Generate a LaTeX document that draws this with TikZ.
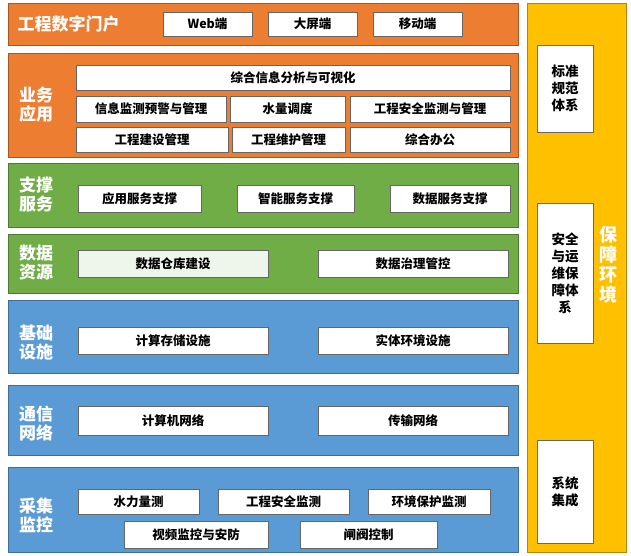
\documentclass[tikz,border=0pt]{standalone}
\usepackage{fontspec}
\setmainfont{Noto Sans CJK SC}
\begin{document}
\begin{tikzpicture}[x=1pt,y=-1pt,
  layer/.style={draw=#1!70!black, fill=#1, line width=1pt, inner sep=0pt},
  wbox/.style={draw=black!60, fill=white, line width=0.6pt, inner sep=0pt, font=\bfseries\fontsize{12.5}{14}\selectfont},
  lbl/.style={text=white, font=\bfseries\fontsize{17}{19}\selectfont, align=left},
  every node/.style={anchor=center}]
  \definecolor{orng}{HTML}{ED7D31}
  \definecolor{grn}{HTML}{70AD47}
  \definecolor{blu}{HTML}{5B9BD5}
  \definecolor{ylw}{HTML}{FFC000}
  \definecolor{lgrn}{HTML}{EEF5EA}
  \useasboundingbox (0,0) rectangle (631,555);
  % box: name, x1, y1, x2, y2, text
  \newcommand\bx[6]{\node[wbox, minimum width={#4-#2}, minimum height={#5-#3}] (#1) at ({(#2+#4)/2},{(#3+#5)/2}) {#6};}
  % layers
  \node[layer=orng, minimum width=510, minimum height=42] (portal) at (263,24) {};
  \node[layer=orng, minimum width=510, minimum height=104] (yewu) at (263,105) {};
  \node[layer=grn, minimum width=510, minimum height=64] (zhicheng) at (263,195) {};
  \node[layer=grn, minimum width=510, minimum height=59] (shuju) at (263,263.5) {};
  \node[layer=blu, minimum width=510, minimum height=73] (jichu) at (263,336.5) {};
  \node[layer=blu, minimum width=510, minimum height=70] (tongxin) at (263,420) {};
  \node[layer=blu, minimum width=510, minimum height=85] (caiji) at (263,509.5) {};
  \node[layer=ylw, minimum width=99, minimum height=549] (baozhang) at (576.5,277.5) {};
  % labels
  \node[lbl, anchor=west] (tportal) at (14,24) {工程数字门户};
  \node[lbl] (tyewu) at (36,105) {业务\\应用};
  \node[lbl] (tzhicheng) at (36,195) {支撑\\服务};
  \node[lbl] (tshuju) at (36,263) {数据\\资源};
  \node[lbl] (tjichu) at (36,343) {基础\\设施};
  \node[lbl] (ttongxin) at (36,423) {通信\\网络};
  \node[lbl] (tcaiji) at (36,515) {采集\\监控};
  \node[lbl, align=center, font=\bfseries\fontsize{18}{20}\selectfont] (tbaozhang) at (608,265) {保\\障\\环\\境};
  % portal
  \bx{web}{163}{12}{252}{36}{Web端}
  \bx{daping}{268}{12}{357}{36}{大屏端}
  \bx{yidong}{373}{12}{462}{36}{移动端}
  % business
  \bx{zonghe}{76}{65}{510}{90}{综合信息分析与可视化}
  \bx{jiance}{76}{96}{226}{122}{信息监测预警与管理}
  \bx{shuiliang}{230}{96}{345}{122}{水量调度}
  \bx{anquan}{350}{96}{510}{122}{工程安全监测与管理}
  \bx{jianshe}{76}{127}{228}{152}{工程建设管理}
  \bx{weihu}{232}{127}{345}{152}{工程维护管理}
  \bx{bangong}{350}{127}{510}{152}{综合办公}
  % support
  \bx{yingyong}{78}{185}{201}{212}{应用服务支撑}
  \bx{zhineng}{237}{185}{354}{212}{智能服务支撑}
  \bx{shujufw}{390}{185}{510}{212}{数据服务支撑}
  % data
  \node[wbox, fill=lgrn, minimum width=190, minimum height=27] (cangku) at (173,263.5) {数据仓库建设};
  \bx{zhili}{318}{250}{508}{277}{数据治理管控}
  % infra
  \bx{jisuan}{78}{327}{268}{354}{计算存储设施}
  \bx{shiti}{318}{327}{508}{354}{实体环境设施}
  % network
  \bx{jisuanji}{78}{406}{268}{435}{计算机网络}
  \bx{chuanshu}{318}{406}{508}{435}{传输网络}
  % acquisition
  \bx{shuili}{78}{489}{199}{514}{水力量测}
  \bx{gcaq}{218}{489}{349}{514}{工程安全监测}
  \bx{huanjing}{368}{489}{490}{514}{环境保护监测}
  \bx{shipin}{124}{521}{268}{548}{视频监控与安防}
  \bx{zhafa}{300}{521}{437}{548}{闸阀控制}
  % right column
  \node[wbox, align=center, minimum width=56, minimum height=87, font=\bfseries\fontsize{13.5}{17}\selectfont] (biaozhun) at (565,88.5) {标准\\规范\\体系};
  \node[wbox, align=center, minimum width=56, minimum height=140, font=\bfseries\fontsize{13.5}{17}\selectfont] (yunwei) at (565,273) {安全\\与运\\维保\\障体\\系};
  \node[wbox, align=center, minimum width=56, minimum height=103, font=\bfseries\fontsize{13.5}{17}\selectfont] (jicheng) at (565,491.5) {系统\\集成};
\end{tikzpicture}
\end{document}
